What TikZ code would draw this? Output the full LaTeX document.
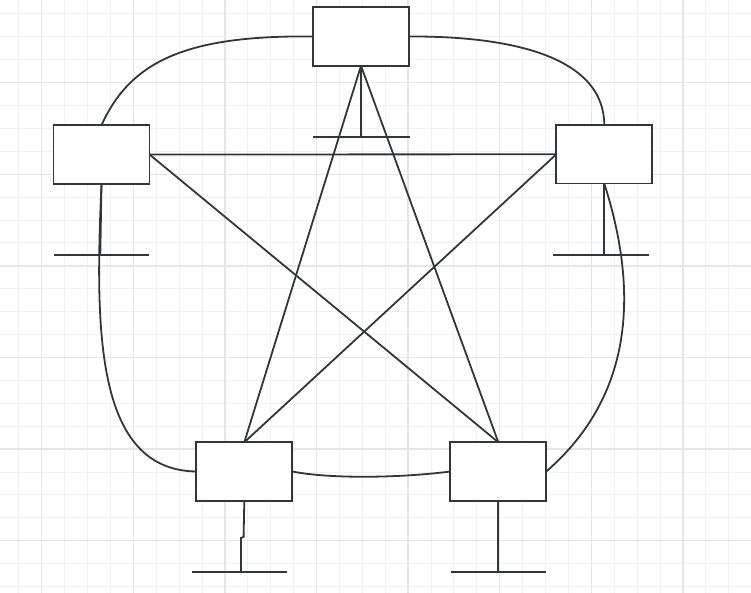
\documentclass[tikz,border=0pt]{standalone}
\definecolor{ink}{RGB}{50,54,59}
\definecolor{gminor}{RGB}{242,242,242}
\definecolor{gmajor}{RGB}{230,230,230}
\tikzset{
  box/.style={draw=ink, line width=1.8pt, fill=white, minimum width=96pt, minimum height=58.5pt, inner sep=0pt, outer sep=0pt},
  wire/.style={draw=ink, line width=1.8pt},
  gridminor/.style={draw=gminor, line width=1pt},
  gridmajor/.style={draw=gmajor, line width=1.4pt}
}
\begin{document}
\begin{tikzpicture}[x=1pt,y=-1pt]
\useasboundingbox (0,0) rectangle (751,593);
\fill[white] (0,0) rectangle (751,593);
% grid
\foreach \k in {0,...,32}{\pgfmathsetmacro\xx{18.8+22.9*\k}\draw[gridminor] (\xx,0) -- (\xx,593);}
\foreach \k in {0,...,25}{\pgfmathsetmacro\yy{14+22.9*\k}\draw[gridminor] (0,\yy) -- (751,\yy);}
\foreach \k in {0,...,7}{\pgfmathsetmacro\xx{41.7+91.6*\k}\draw[gridmajor] (\xx,0) -- (\xx,593);}
\foreach \k in {0,...,5}{\pgfmathsetmacro\yy{82.7+91.6*\k}\draw[gridmajor] (0,\yy) -- (751,\yy);}
% boxes
\node[box] (top) at (361,36.5) {};
\node[box] (lft) at (101.5,154.5) {};
\node[box] (rgt) at (604.3,154.3) {};
\node[box] (bl) at (244.3,471.5) {};
\node[box] (br) at (498.3,471.5) {};
% ground coordinates
\coordinate (gtop) at (361,136.7);
\coordinate (gtopL) at (313,136.7);
\coordinate (gtopR) at (409.5,136.7);
\coordinate (glft) at (100.3,255);
\coordinate (glftL) at (54,255);
\coordinate (glftR) at (149,255);
\coordinate (grgt) at (604.3,255);
\coordinate (grgtL) at (553,255);
\coordinate (grgtR) at (649,255);
\coordinate (gblA) at (243.6,537);
\coordinate (gblB) at (241,538);
\coordinate (gbl) at (241,572);
\coordinate (gblL) at (192.3,572);
\coordinate (gblR) at (287.3,572);
\coordinate (gbr) at (498.3,572);
\coordinate (gbrL) at (450.7,572);
\coordinate (gbrR) at (545.7,572);
% star
\draw[wire] (top.south) -- (bl.north);
\draw[wire] (top.south) -- (br.north);
\draw[wire] (lft.east) -- (rgt.west);
\draw[wire] (lft.east) -- (br.north);
\draw[wire] (rgt.west) -- (bl.north);
% ring curves
\draw[wire] (top.west) .. controls (185,35) and (130,62) .. (lft.north);
\draw[wire] (top.east) .. controls (520,36) and (604,60) .. (rgt.north);
\draw[wire] (lft.south) .. controls (95,330) and (95,470) .. (bl.west);
\draw[wire] (rgt.south) .. controls (635,280) and (640,390) .. (br.east);
\draw[wire] (bl.east) .. controls (330,479) and (400,478) .. (br.west);
% grounds
\draw[wire] (top.south) -- (gtop);
\draw[wire] (gtopL) -- (gtopR);
\draw[wire] (lft.south) -- (glft);
\draw[wire] (glftL) -- (glftR);
\draw[wire] (rgt.south) -- (grgt);
\draw[wire] (grgtL) -- (grgtR);
\draw[wire] (bl.south) -- (gblA) -- (gblB) -- (gbl);
\draw[wire] (gblL) -- (gblR);
\draw[wire] (br.south) -- (gbr);
\draw[wire] (gbrL) -- (gbrR);
\end{tikzpicture}
\end{document}
